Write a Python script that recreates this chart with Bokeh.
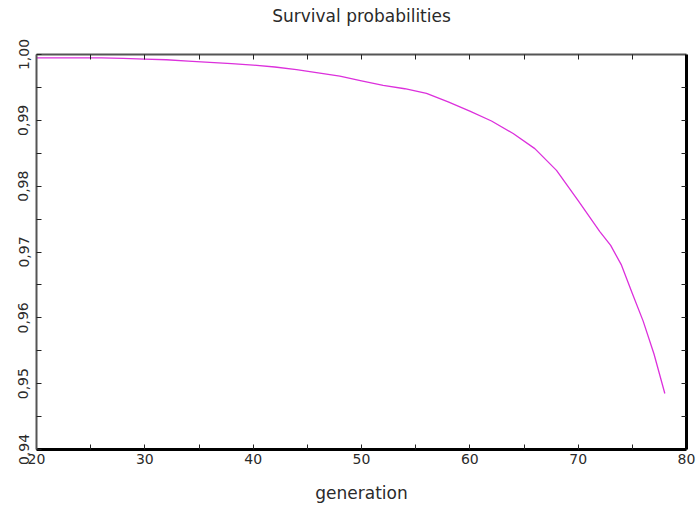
from bokeh.plotting import figure
from bokeh.models import (LinearAxis, FixedTicker, CustomJSTickFormatter, Range1d, Title)
from bokeh.embed import file_html
from bokeh.resources import INLINE

# Survival probability per generation
generation = [20, 22, 24, 26, 28, 30, 32, 34, 36, 38, 40, 42, 44, 46, 48, 50,
              52, 54, 56, 58, 60, 62, 64, 66, 68, 70, 72, 73, 74, 75, 76, 77, 78]
survival = [0.9995, 0.9995, 0.9995, 0.9995, 0.9994, 0.9993, 0.9992, 0.9990,
            0.9988, 0.9986, 0.9984, 0.9981, 0.9977, 0.9972, 0.9967, 0.9960,
            0.9953, 0.9948, 0.9941, 0.9928, 0.9914, 0.9899, 0.9880, 0.9857,
            0.9824, 0.9778, 0.9731, 0.9710, 0.9680, 0.9637, 0.9595, 0.9545,
            0.9485]

x_ticks = [20, 30, 40, 50, 60, 70, 80]
x_minor = [25, 35, 45, 55, 65, 75]
x_all_inner = [25, 30, 35, 40, 45, 50, 55, 60, 65, 70, 75]
y_ticks = [0.94, 0.95, 0.96, 0.97, 0.98, 0.99, 1.00]
y_minor = [0.945, 0.955, 0.965, 0.975, 0.985, 0.995]
y_all_inner = [0.945, 0.95, 0.955, 0.96, 0.965, 0.97, 0.975, 0.98,
               0.985, 0.99, 0.995]

FONT = "DejaVu Sans"
TEXT = "#2a2a2a"

p = figure(width=698, height=509, output_backend="svg", toolbar_location=None,
           x_range=Range1d(20, 80), y_range=Range1d(0.94, 1.0),
           x_axis_location=None, y_axis_location=None,
           min_border_left=36, min_border_right=12,
           min_border_top=54, min_border_bottom=60)
p.grid.visible = False
p.outline_line_color = None
p.background_fill_color = "white"
p.border_fill_color = "white"


def style_axis(ax, line_color, line_width):
    ax.axis_line_color = line_color
    ax.axis_line_width = line_width
    ax.major_tick_in = 5
    ax.major_tick_out = 0
    ax.minor_tick_in = 5
    ax.minor_tick_out = 0
    ax.major_tick_line_color = "#222"
    ax.minor_tick_line_color = "#222"
    ax.major_label_text_font = FONT
    ax.major_label_text_font_size = "14px"
    ax.major_label_text_color = TEXT


blank = CustomJSTickFormatter(code="return '';")

# frame edges: thin grey on top/left, heavy black on bottom/right;
# the top edge keeps unlabelled corner ticks (hidden) whose outer length
# leaves room between the frame and the title
top = LinearAxis(ticker=FixedTicker(ticks=[20, 80], minor_ticks=x_all_inner),
                 formatter=blank)
style_axis(top, "#555555", 2)
top.major_tick_line_color = None
top.major_tick_in = 0
top.major_tick_out = 26
top.major_label_standoff = 0
p.add_layout(top, "above")

title = Title(text="Survival probabilities", align="center",
              text_font=FONT, text_font_size="17px", text_font_style="normal",
              text_color=TEXT, standoff=6, offset=0)
p.add_layout(title, "above")

bottom = LinearAxis(ticker=FixedTicker(ticks=x_ticks, minor_ticks=x_minor),
                    axis_label="generation")
style_axis(bottom, "black", 3)
bottom.major_label_standoff = 4
bottom.axis_label_text_font = FONT
bottom.axis_label_text_font_size = "17px"
bottom.axis_label_text_font_style = "normal"
bottom.axis_label_text_color = TEXT
bottom.axis_label_standoff = 16
p.add_layout(bottom, "below")

left = LinearAxis(ticker=FixedTicker(ticks=y_ticks, minor_ticks=y_minor),
                  formatter=CustomJSTickFormatter(
                      code="return tick.toFixed(2).replace('.', ',');"))
style_axis(left, "#555555", 2)
left.major_label_orientation = "vertical"
left.major_label_standoff = 8
p.add_layout(left, "left")

right = LinearAxis(ticker=FixedTicker(ticks=[], minor_ticks=y_all_inner))
style_axis(right, "black", 3)
p.add_layout(right, "right")

p.line(generation, survival, line_color="#dc30dc", line_width=1.3)

open("out.html", "w").write(file_html(p, INLINE))
